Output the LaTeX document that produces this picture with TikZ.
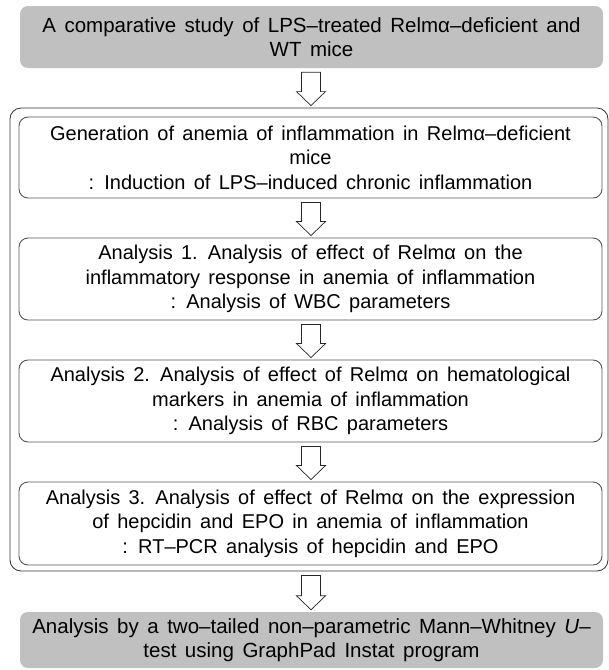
\documentclass[tikz,border=0pt]{standalone}
\usepackage{fontspec}
\setmainfont{Liberation Sans}
\newfontfamily\bodyf[WordSpace=2.2]{Liberation Sans}
\newfontfamily\headf[WordSpace=1.5]{Liberation Sans}
\usetikzlibrary{calc}
\definecolor{boxgray}{HTML}{C0C0C0}
\definecolor{edgegray}{HTML}{555555}
\tikzset{
  graybox/.style={fill=boxgray, draw=none, rounded corners=8pt, align=center,
    font=\headf\fontsize{20.5}{23.5}\selectfont, inner sep=0pt},
  stepbox/.style={draw=edgegray, line width=0.9pt, rounded corners=9pt, align=center,
    font=\bodyf\fontsize{20}{24.5}\selectfont, inner sep=0pt},
  outerbox/.style={draw=black!80, line width=0.8pt, rounded corners=11pt, inner sep=0pt},
  blockarr/.style={draw=black!85, line width=0.7pt, fill=white, line join=miter}
}
\newcommand{\blockarrow}[2]{%
  \draw[blockarr] let \p1=(#1.south), \p2=(#2.north) in
    (311pt-9.5pt,\y1-4pt) -- (311pt-9.5pt,\y2+16pt) -- (311pt-14.5pt,\y2+16pt)
    -- (311pt,\y2+2pt) -- (311pt+14.5pt,\y2+16pt) -- (311pt+9.5pt,\y2+16pt)
    -- (311pt+9.5pt,\y1-4pt) -- cycle;}
\begin{document}
\begin{tikzpicture}[x=1pt,y=-1pt]
\useasboundingbox (0,0) rectangle (609,670);
\fill[white] (0,0) rectangle (609,670);
% top
\node[graybox, minimum width=583pt, minimum height=62pt] (top) at (311.5,37)
  {A comparative study of LPS–treated Relmα–deficient and\\WT mice};
% outer container
\node[outerbox, minimum width=598pt, minimum height=463pt] (outer) at (309,339.5) {};
% steps
\node[stepbox, minimum width=583pt, minimum height=81pt] (s1) at (310.5,157.5)
  {Generation of anemia of inflammation in Relmα–deficient\\mice\\: Induction of LPS–induced chronic inflammation};
\node[stepbox, minimum width=583pt, minimum height=82pt] (s2) at (310.5,279)
  {Analysis 1. Analysis of effect of Relmα on the\\inflammatory response in anemia of inflammation\\: Analysis of WBC parameters};
\node[stepbox, minimum width=583pt, minimum height=82pt] (s3) at (310.5,401)
  {Analysis 2. Analysis of effect of Relmα on hematological\\markers in anemia of inflammation\\: Analysis of RBC parameters};
\node[stepbox, minimum width=583pt, minimum height=83pt] (s4) at (310.5,523.5)
  {Analysis 3. Analysis of effect of Relmα on the expression\\of hepcidin and EPO in anemia of inflammation\\: RT–PCR analysis of hepcidin and EPO};
% bottom
\node[graybox, minimum width=583pt, minimum height=56pt] (bot) at (311.5,640)
  {Analysis by a two–tailed non–parametric Mann–Whitney \textit{U}–\\test using GraphPad Instat program};
% arrows
\blockarrow{top}{outer}
\blockarrow{s1}{s2}
\blockarrow{s2}{s3}
\blockarrow{s3}{s4}
\blockarrow{outer}{bot}
\end{tikzpicture}
\end{document}
